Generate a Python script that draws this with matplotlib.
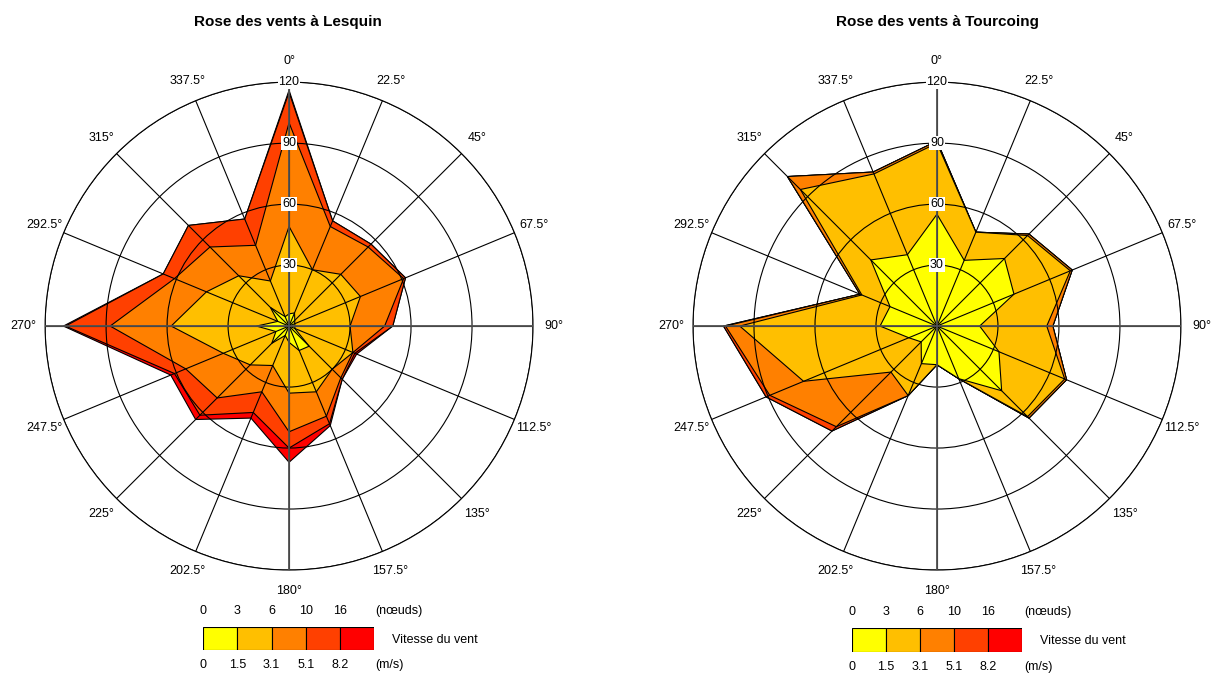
import matplotlib
matplotlib.use('Agg')
import matplotlib.pyplot as plt
import numpy as np

plt.rcParams['font.family'] = ['Liberation Sans', 'DejaVu Sans']

# directions (degrees, clockwise from north)
directions = [0, 22.5, 45, 67.5, 90, 112.5, 135, 157.5,
              180, 202.5, 225, 247.5, 270, 292.5, 315, 337.5]

# cumulative frequencies per speed class - Lesquin
lesquin_0_3 = [6, 7, 4, 3, 3, 3, 14, 13, 8, 5, 12, 7, 16, 6, 13, 5]
lesquin_3_6 = [49, 30, 36, 38, 30, 34, 30, 35, 33, 21, 27, 35, 58, 44, 35, 24]
lesquin_6_10 = [100, 53, 55, 61, 47, 34, 36, 48, 52, 35, 50, 55, 88, 61, 55, 43]
lesquin_10_16 = [115, 56, 57, 62, 51, 35, 37, 52, 60, 46, 62, 61, 110, 67, 70, 57]
lesquin_16p = [116, 56, 57, 62, 51, 36, 37, 53, 67, 49, 65, 63, 111, 67, 70, 57]

# cumulative frequencies per speed class - Tourcoing
tourcoing_0_3 = [55, 35, 47, 41, 21, 33, 45, 28, 19, 20, 11, 15, 28, 25, 46, 38]
tourcoing_3_6 = [90, 50, 63, 71, 54, 68, 63, 28, 19, 37, 32, 71, 97, 40, 95, 81]
tourcoing_6_10 = [91, 50, 64, 72, 57, 69, 64, 28, 19, 37, 70, 89, 104, 41, 104, 82]
tourcoing_10_16 = [91, 50, 64, 72, 57, 69, 64, 28, 19, 37, 73, 91, 105, 41, 104, 82]
tourcoing_16p = [91, 50, 64, 72, 57, 69, 64, 28, 19, 37, 73, 91, 105, 41, 104, 82]

layer_colors = ['#FFFF00', '#FFBF00', '#FF8000', '#FF4000', '#FF0000']
knots_labels = ['0', '3', '6', '10', '16']
ms_labels = ['0', '1.5', '3.1', '5.1', '8.2']
radial_ticks = [30, 60, 90, 120]


def draw_rose(ax, layers):
    theta = np.deg2rad(directions + [directions[0]])
    # outer class first, inner classes painted over it
    for values, color in reversed(list(zip(layers, layer_colors))):
        r = list(values) + [values[0]]
        ax.fill(theta, r, facecolor=color, edgecolor='black', lw=0.8, zorder=1)

    ax.set_theta_zero_location('N')
    ax.set_theta_direction(-1)
    ax.set_ylim(0, 120)
    ax.set_rgrids(radial_ticks, labels=[])
    ax.set_thetagrids(directions, labels=[])
    ax.set_axisbelow(False)
    ax.grid(True, color='black', lw=0.8)
    ax.spines['polar'].set_color('black')
    ax.spines['polar'].set_linewidth(0.8)
    ax.tick_params(length=0)

    # main axes drawn a little heavier
    for a in [0, 90, 180, 270]:
        ax.plot([np.deg2rad(a)] * 2, [0, 120], color='#505050', lw=1.3, zorder=3)

    for d in directions:
        ax.text(np.deg2rad(d), 130.5, f'{d:g}°', ha='center', va='center', fontsize=9)
    for r in radial_ticks:
        ax.text(0, r, str(r), ha='center', va='center', fontsize=9, zorder=5,
                bbox=dict(facecolor='white', edgecolor='none', pad=0.6))


def draw_legend(ax):
    ax.bar(range(5), 1, width=1, align='edge', color=layer_colors,
           edgecolor='black', lw=0.8)
    ax.set_xlim(0, 5)
    ax.set_ylim(0, 1)
    ax.axis('off')
    for i in range(5):
        ax.text(i, 1.68, knots_labels[i], ha='center', va='center', fontsize=9)
        ax.text(i, -0.65, ms_labels[i], ha='center', va='center', fontsize=9)
    ax.text(5.05, 1.68, '(nœuds)', ha='left', va='center', fontsize=9)
    ax.text(5.05, -0.65, '(m/s)', ha='left', va='center', fontsize=9)
    ax.text(5.53, 0.45, 'Vitesse du vent', ha='left', va='center', fontsize=9)


fig = plt.figure(figsize=(12.14, 6.73), dpi=100)

ax1 = fig.add_axes([0.0371, 0.153, 0.402, 0.725], projection='polar')
draw_rose(ax1, [lesquin_0_3, lesquin_3_6, lesquin_6_10, lesquin_10_16, lesquin_16p])
ax2 = fig.add_axes([0.5708, 0.153, 0.402, 0.725], projection='polar')
draw_rose(ax2, [tourcoing_0_3, tourcoing_3_6, tourcoing_6_10, tourcoing_10_16, tourcoing_16p])

fig.text(288 / 1214, 1 - 22 / 673, 'Rose des vents à Lesquin', ha='center', va='center',
         fontsize=11, fontweight='bold')
fig.text(937 / 1214, 1 - 22 / 673, 'Rose des vents à Tourcoing', ha='center', va='center',
         fontsize=11, fontweight='bold')

leg1 = fig.add_axes([0.1675, 0.0342, 0.1406, 0.0346])
draw_legend(leg1)
leg2 = fig.add_axes([0.7016, 0.0316, 0.1403, 0.0352])
draw_legend(leg2)

fig.savefig('out.png', dpi=100)
